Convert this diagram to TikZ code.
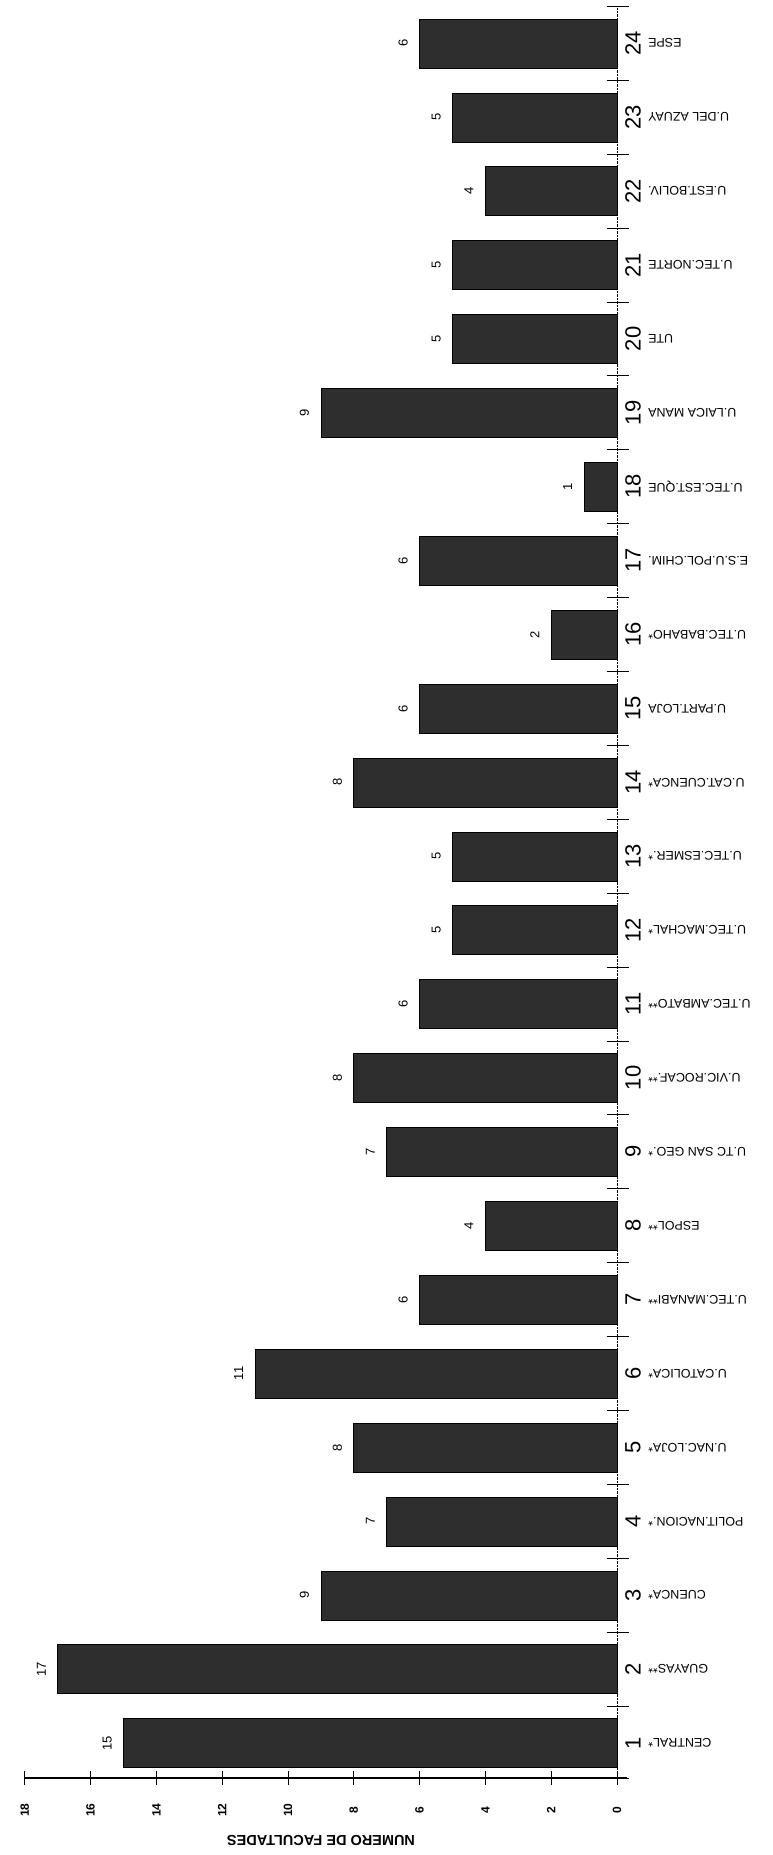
\documentclass[tikz,border=0pt]{standalone}
\usepackage{fontspec}
\setsansfont{Liberation Sans}
\usetikzlibrary{positioning}

\tikzset{
  facbar/.style={anchor=east, minimum width=#1*32.9pt, minimum height=49pt,
    inner sep=0pt, fill=black!82, draw=black},
  valnum/.style={rotate=90, font=\sffamily\fontsize{13}{15}\selectfont},
  handnum/.style={rotate=90, font=\sffamily\fontsize{22}{24}\selectfont},
  uname/.style={rotate=180, anchor=east, inner sep=0pt,
    font=\sffamily\fontsize{12.5}{14}\selectfont},
  ticklab/.style={rotate=90, font=\sffamily\bfseries\fontsize{12}{14}\selectfont},
  ctick/.style={line width=0.9pt},
}

\begin{document}
\begin{tikzpicture}[x=1pt,y=1pt,node distance=73.9pt,on grid]
  \useasboundingbox (0,0) rectangle (772,-1855);

  % category axis
  \coordinate (k1) at (617,-1743);
  \coordinate (base) at (617,-1778);
  \draw[densely dotted,thin] (base) -- (617,-7);

  % bars, counts and names
  \foreach \k/\v/\name in {1/15/CENTRAL*, 2/17/GUAYAS**, 3/9/CUENCA*,
      4/7/{POLIT.NACION.*}, 5/8/{U.NAC.LOJA*}, 6/11/{U.CATOLICA*},
      7/6/{U.TEC.MANABI**}, 8/4/ESPOL**, 9/7/{U.TC SAN GEO.*},
      10/8/{U.VIC.ROCAF.**}, 11/6/{U.TEC.AMBATO**}, 12/5/{U.TEC.MACHAL*},
      13/5/{U.TEC.ESMER.*}, 14/8/{U.CAT.CUENCA*}, 15/6/{U.PART.LOJA},
      16/2/{U.TEC.BABAHO*}, 17/6/{E.S.U.POL.CHIM.}, 18/1/{U.TEC.EST.QUE},
      19/9/{U.LAICA MANA}, 20/5/UTE, 21/5/{U.TEC.NORTE},
      22/4/{U.EST.BOLIV.}, 23/5/{U.DEL AZUAY}, 24/6/ESPE} {
    \coordinate (k\k) at (617,{-1743+(\k-1)*73.9});
    \node[facbar=\v] (b\k) at (k\k) {};
    \node[valnum] (v\k) at ([xshift=-16pt]b\k.west) {\v};
    \node[handnum] (n\k) at ([xshift=16pt]k\k) {\k};
    \node[uname] (u\k) at ([xshift=31pt]k\k) {\name};
    \draw[ctick] ([xshift=-10pt,yshift=36.95pt]k\k) -- ([xshift=12pt,yshift=36.95pt]k\k);
  }
  \draw[ctick] ([xshift=-10pt]base) -- ([xshift=12pt]base);

  % value axis
  \draw[line width=1.6pt] (25,-1778) -- (627,-1778);
  \foreach \t in {0,2,...,18} {
    \draw[ctick] ({617-\t*32.9},-1771) -- ({617-\t*32.9},-1785);
    \node[ticklab] (t\t) at ({617-\t*32.9},-1810) {\t};
  }
  \node[rotate=180, font=\sffamily\bfseries\fontsize{14.5}{16}\selectfont]
    (title) at (321,-1840) {NUMERO DE FACULTADES};
\end{tikzpicture}
\end{document}
